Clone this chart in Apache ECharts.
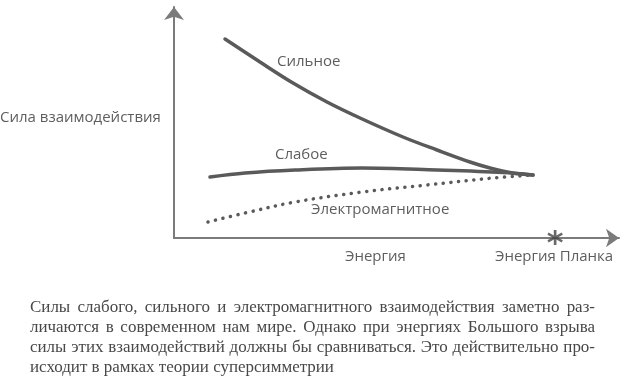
<!DOCTYPE html>
<html><head><meta charset="utf-8">
<script src="https://cdn.jsdelivr.net/npm/echarts@6/dist/echarts.min.js"></script>
<style>html,body{margin:0;padding:0;background:#fff}#c{width:626px;height:376px}</style>
</head><body><div id="c"></div>
<script>
// Data (arbitrary units: energy along x, strength along y)
const strongX = [51, 86, 119, 153, 186, 229, 263, 296, 316, 336, 359];
const strongY = [199, 176, 155, 136, 120, 101, 88, 76, 70, 65.5, 63];
const weakX = [36, 71, 121, 188, 263, 329, 359];
const weakY = [61, 65, 68, 70, 68, 65.5, 63];
const emX = [34, 71, 121, 188, 253, 319, 359];
const emY = [16, 25, 36, 46, 53, 60, 63];
const planckX = [379];
const seriesNames = ['Сильное', 'Слабое', 'Электромагнитное'];
const yAxisName = 'Сила взаимодействия';
const xAxisName = 'Энергия';
const planckName = 'Энергия Планка';
const captionLines = [
  'Силы слабого, сильного и электромагнитного взаимодействия заметно раз-',
  'личаются в современном нам мире. Однако при энергиях Большого взрыва',
  'силы этих взаимодействий должны бы сравниваться. Это действительно про-',
  'исходит в рамках теории суперсимметрии'
];

const zip = (xs, ys) => xs.map((x, i) => [x, ys[i]]);
const lineColor = '#5a5a5a';
const labelColor = '#5e5e5e';
const sansFamily = "'Open Sans', 'Noto Sans', sans-serif";
const capFamily = "'Liberation Serif', serif";
const capColor = '#484848';

// caption layout (justified)
const mctx = document.createElement('canvas').getContext('2d');
function tw(t, s) { mctx.font = s + 'px ' + capFamily; return mctx.measureText(t).width; }
const capLeft = 30, capRight = 595, capW = capRight - capLeft;
let capMax = 0;
for (let i = 0; i < 3; i++) capMax = Math.max(capMax, tw(captionLines[i], 20));
const capSize = 20 * (capW - 4) / capMax;
const baselines = [313, 333, 353, 373];
const capGraphics = [];
captionLines.forEach((line, i) => {
  const y = baselines[i] - capSize * 0.3;
  if (i === captionLines.length - 1) {
    capGraphics.push({ type: 'text', x: capLeft, y: y, style: { text: line, fontSize: capSize, fontFamily: capFamily, fill: capColor, textVerticalAlign: 'middle' } });
    return;
  }
  const words = line.split(' ');
  const ws = words.map(wd => tw(wd, capSize));
  const sum = ws.reduce((a, b) => a + b, 0);
  const gap = (capW - sum) / (words.length - 1);
  let x = capLeft;
  words.forEach((wd, k) => {
    capGraphics.push({ type: 'text', x: x, y: y, style: { text: wd, fontSize: capSize, fontFamily: capFamily, fill: capColor, textVerticalAlign: 'middle' } });
    x += ws[k] + gap;
  });
});

const lbl = (text, x, y) => ({ type: 'text', x: x, y: y, style: { text: text, fontSize: 15, fontFamily: sansFamily, fill: labelColor, textVerticalAlign: 'middle' } });

const chart = echarts.init(document.getElementById('c'), null, { renderer: 'canvas' });
chart.setOption({
  animation: false,
  backgroundColor: '#fff',
  grid: { left: 174, right: 7, top: 7, bottom: 138, containLabel: false },
  xAxis: {
    type: 'value', min: 0, max: 445,
    axisLine: { show: true, lineStyle: { color: '#7b7b7b', width: 2 }, symbol: ['none', 'arrow'], symbolSize: [14, 13] },
    axisTick: { show: false }, axisLabel: { show: false }, splitLine: { show: false }
  },
  yAxis: {
    type: 'value', min: 0, max: 231,
    axisLine: { show: true, lineStyle: { color: '#7b7b7b', width: 2 }, symbol: ['none', 'arrow'], symbolSize: [15, 13] },
    axisTick: { show: false }, axisLabel: { show: false }, splitLine: { show: false }
  },
  series: [
    { name: seriesNames[0], type: 'line', smooth: 0.35, showSymbol: false, data: zip(strongX, strongY),
      lineStyle: { color: lineColor, width: 3.5, cap: 'round' } },
    { name: seriesNames[1], type: 'line', smooth: 0.35, showSymbol: false, data: zip(weakX, weakY),
      lineStyle: { color: lineColor, width: 3.5, cap: 'round' } },
    { name: seriesNames[2], type: 'line', smooth: 0.35, showSymbol: false, data: zip(emX, emY),
      lineStyle: { color: lineColor, width: 3.5, cap: 'round', type: [0.1, 7.6] } },
    { name: planckName, type: 'scatter', symbolSize: 0, data: planckX.map(x => [x, 0]),
      label: { show: true, position: 'inside', formatter: '*', fontSize: 32, fontWeight: 'bold', fontFamily: "'DejaVu Sans', sans-serif", color: '#444', offset: [2, 7] } }
  ],
  graphic: [
    lbl(seriesNames[0], 277, 62),
    lbl(seriesNames[1], 275, 155),
    lbl(seriesNames[2], 311, 210),
    lbl(yAxisName, 0, 118),
    lbl(xAxisName, 345, 257),
    lbl(planckName, 495, 257)
  ].concat(capGraphics)
});
</script>
</body></html>
